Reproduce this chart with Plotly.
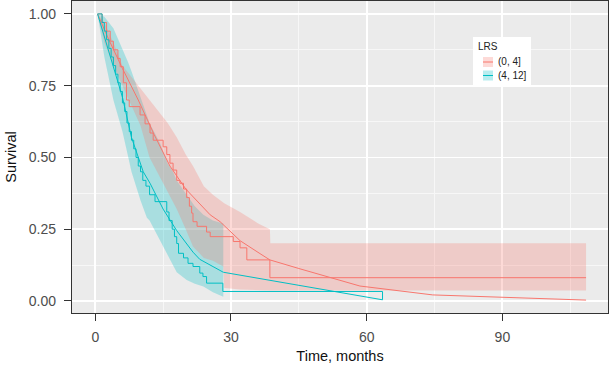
import plotly.graph_objects as go

RED = "#F8766D"
TEAL = "#00BFC4"
RED_FILL = "rgba(248,118,109,0.27)"
TEAL_FILL = "rgba(0,191,196,0.28)"

# ---- group (0, 4] ----
red_km_t = [0.5, 1.5, 2.5, 3.3, 4.0, 5.0, 5.5, 6.2, 6.9, 7.5, 9.9, 11.0, 12.1, 12.8, 15.0, 15.8, 16.5,
            17.2, 18.0, 18.7, 19.5, 20.2, 20.8, 21.3, 21.6, 22.5, 24.6, 25.4, 30.5, 32.0, 33.5, 38.6, 108.5]
red_km_s = [1.0, 0.97, 0.94, 0.905, 0.875, 0.845, 0.816, 0.76, 0.70, 0.677, 0.648, 0.617, 0.585, 0.56, 0.537, 0.51, 0.48,
            0.456, 0.42, 0.41, 0.39, 0.36, 0.33, 0.306, 0.276, 0.26, 0.24, 0.224, 0.207, 0.185, 0.143, 0.081, 0.081]

red_fit_t = [0.5, 3, 6, 9.5, 13, 16.5, 20, 25.4, 27.6, 32, 36.4, 38.6, 45, 52, 58.5, 74.6, 108.5]
red_fit_s = [1.0, 0.91, 0.81, 0.70, 0.58, 0.47, 0.39, 0.30, 0.276, 0.21, 0.165, 0.143, 0.113, 0.081, 0.052, 0.021, 0.003]

red_ci_t = [0.5, 2, 4, 6, 8, 10, 12, 14.3, 16, 18, 20, 21.6, 24, 26, 28.3, 28.5, 32, 36, 38.6, 38.7, 108.5]
red_ci_lo = [1.0, 0.90, 0.82, 0.75, 0.68, 0.61, 0.50, 0.43, 0.38, 0.32, 0.25, 0.19, 0.15, 0.14, 0.12, 0.045, 0.04, 0.038, 0.036, 0.036, 0.036]
red_ci_hi = [1.0, 0.97, 0.90, 0.82, 0.78, 0.74, 0.70, 0.655, 0.62, 0.57, 0.51, 0.47, 0.40, 0.37, 0.34, 0.34, 0.31, 0.27, 0.25, 0.201, 0.201]

# ---- group (4, 12] ----
teal_km_t = [0.5, 1.5, 2.0, 2.5, 3.0, 3.5, 4.0, 4.5, 5.0, 5.5, 6.0, 6.5, 7.0, 7.5, 8.0, 8.5, 9.0, 9.5, 10.0,
             10.5, 11.2, 12.0, 13.2, 15.8, 16.3, 17.0, 17.5, 18.0, 18.4, 19.5, 20.5, 21.6, 23.1, 23.8, 24.6, 28.2, 63.5, 63.5]
teal_km_s = [1.0, 0.97, 0.94, 0.91, 0.88, 0.85, 0.82, 0.79, 0.76, 0.73, 0.69, 0.66, 0.62, 0.59, 0.56, 0.53, 0.50, 0.47, 0.45,
             0.42, 0.40, 0.37, 0.346, 0.31, 0.28, 0.25, 0.224, 0.20, 0.166, 0.15, 0.131, 0.12, 0.097, 0.085, 0.062, 0.033, 0.033, 0.004]

teal_fit_t = [0.5, 3, 6, 8, 10.6, 12.1, 15, 18, 21.6, 23.1, 28.3, 63.5]
teal_fit_s = [1.0, 0.87, 0.71, 0.57, 0.45, 0.41, 0.32, 0.245, 0.17, 0.145, 0.10, 0.004]

teal_ci_t = [0.5, 2, 4, 6, 7.3, 8, 10, 11.4, 12, 14.3, 16, 17.2, 18, 20.2, 22, 23.9, 26, 28.3]
teal_ci_lo = [1.0, 0.85, 0.70, 0.59, 0.50, 0.45, 0.35, 0.29, 0.28, 0.21, 0.16, 0.12, 0.10, 0.073, 0.06, 0.05, 0.03, 0.015]
teal_ci_hi = [1.0, 0.99, 0.95, 0.88, 0.83, 0.80, 0.71, 0.65, 0.62, 0.55, 0.48, 0.45, 0.42, 0.37, 0.33, 0.30, 0.28, 0.27]

legend_title = "LRS"
legend_labels = ["(0, 4]", "(4, 12]"]

W, H = 610, 372
ML, MR, MT, MB = 72, 2, 1, 59

fig = go.Figure()

def ribbon(t, lo, hi, fill):
    fig.add_trace(go.Scatter(x=t, y=lo, mode="lines", line=dict(width=0, color=fill),
                             showlegend=False, hoverinfo="skip"))
    fig.add_trace(go.Scatter(x=t, y=hi, mode="lines", line=dict(width=0, color=fill),
                             fill="tonexty", fillcolor=fill, showlegend=False, hoverinfo="skip"))

ribbon(teal_ci_t, teal_ci_lo, teal_ci_hi, TEAL_FILL)
ribbon(red_ci_t, red_ci_lo, red_ci_hi, RED_FILL)

LW = 1.0
fig.add_trace(go.Scatter(x=red_fit_t, y=red_fit_s, mode="lines", line=dict(color=RED, width=LW), showlegend=False))
fig.add_trace(go.Scatter(x=teal_fit_t, y=teal_fit_s, mode="lines", line=dict(color=TEAL, width=LW), showlegend=False))
fig.add_trace(go.Scatter(x=red_km_t, y=red_km_s, mode="lines", line=dict(color=RED, width=LW, shape="hv"), showlegend=False))
fig.add_trace(go.Scatter(x=teal_km_t, y=teal_km_s, mode="lines", line=dict(color=TEAL, width=LW, shape="hv"), showlegend=False))

pw, ph = W - ML - MR, H - MT - MB
def px(x):
    return (x - ML) / pw
def py(y):
    return (H - MB - y) / ph

# manual legend
FONT = "Liberation Sans, Arial, sans-serif"
shapes = [dict(type="rect", xref="paper", yref="paper", x0=px(473), x1=px(531), y0=py(86), y1=py(37),
               fillcolor="white", line=dict(width=0), layer="above")]
annotations = [dict(xref="paper", yref="paper", x=px(476), y=py(46), text=legend_title, showarrow=False,
                    xanchor="left", yanchor="middle", font=dict(size=10, color="#222", family=FONT))]
for i, (lab, col, fc) in enumerate(zip(legend_labels, [RED, TEAL], [RED_FILL, TEAL_FILL])):
    cy = 62 + i * 13.5
    shapes.append(dict(type="rect", xref="paper", yref="paper", x0=px(483), x1=px(493), y0=py(cy + 5), y1=py(cy - 5),
                       fillcolor=fc, line=dict(width=0), layer="above"))
    shapes.append(dict(type="line", xref="paper", yref="paper", x0=px(483), x1=px(493), y0=py(cy), y1=py(cy),
                       line=dict(color=col, width=LW), layer="above"))
    annotations.append(dict(xref="paper", yref="paper", x=px(496), y=py(cy), text=lab, showarrow=False,
                            xanchor="left", yanchor="middle", font=dict(size=10, color="#222", family=FONT)))

axis_common = dict(showline=True, linecolor="#333333", linewidth=1.2, mirror=True, ticks="outside",
                   ticklen=7, tickwidth=1, tickcolor="#333333", gridcolor="white", gridwidth=1.8,
                   zeroline=False, automargin=False, tickfont=dict(size=14, color="#4d4d4d"))

fig.update_layout(
    width=W, height=H,
    margin=dict(l=ML, r=MR, t=MT, b=MB, pad=0),
    paper_bgcolor="white", plot_bgcolor="#EBEBEB",
    font=dict(family=FONT, color="#111"),
    showlegend=False, hovermode=False,
    shapes=shapes, annotations=annotations,
    xaxis=dict(range=[-5.15, 113.35], tickvals=[0, 30, 60, 90], ticklabelstandoff=4,
               minor=dict(tickvals=[15, 45, 75, 105], showgrid=True, gridcolor="#F7F7F7", gridwidth=1, ticks=""),
               title=dict(text="Time, months", font=dict(size=14.5, color="#111"), standoff=6),
               **axis_common),
    yaxis=dict(range=[-0.042, 1.045], tickvals=[0, 0.25, 0.5, 0.75, 1.0], tickformat=".2f", ticklabelstandoff=5,
               minor=dict(tickvals=[0.125, 0.375, 0.625, 0.875], showgrid=True, gridcolor="#F7F7F7", gridwidth=1, ticks=""),
               title=dict(text="Survival", font=dict(size=14.5, color="#111"), standoff=8),
               **axis_common),
)

fig.write_html("out.html", config={"displayModeBar": False, "staticPlot": True},
               post_script="document.body.style.margin='0px';document.body.style.overflow='hidden';")
